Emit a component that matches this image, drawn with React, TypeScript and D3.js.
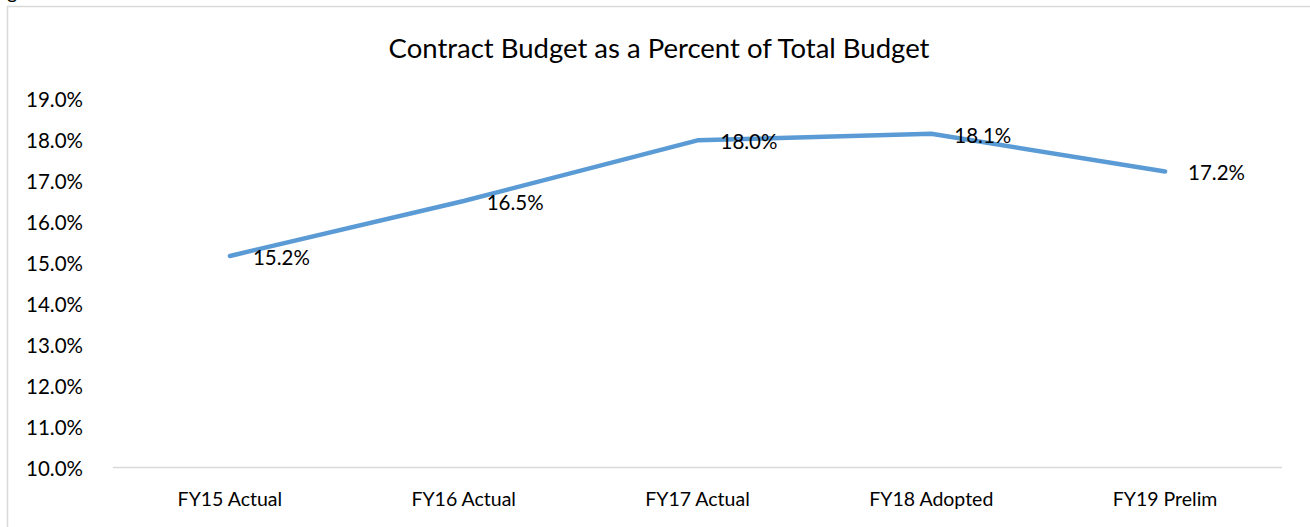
import React from 'react';
import * as d3 from 'd3';

const categories = ['FY15 Actual', 'FY16 Actual', 'FY17 Actual', 'FY18 Adopted', 'FY19 Prelim'];
const values = [0.1516, 0.165, 0.1798, 0.1814, 0.1722];
const yTicks = [0.1, 0.11, 0.12, 0.13, 0.14, 0.15, 0.16, 0.17, 0.18, 0.19];

const W = 1310;
const H = 527;
const font = "Lato, 'Open Sans', sans-serif";

const App = () => {
  const x = d3.scaleBand<string>().domain(categories).range([113, 1282]).padding(0);
  const y = d3.scaleLinear().domain([0.1, 0.19]).range([467.5, 98.5]);
  const fmt = d3.format('.1%');

  const line = d3
    .line<number>()
    .x((d, i) => (x(categories[i]) as number) + x.bandwidth() / 2)
    .y(d => y(d));

  return (
    <svg
      width={W}
      height={H}
      style={{ position: 'absolute', left: 0, top: 0, background: '#fff' }}
    >
      {/* cut-off caption above the chart */}
      <text x={7} y={-1} fontFamily={font} fontSize={20} fill="#000">g</text>
      {/* chart border */}
      <rect x={7.5} y={6.5} width={W + 10} height={H + 10} fill="none" stroke="#d9d9d9" strokeWidth={1.5} />

      <text x={659} y={47} textAnchor="middle" dominantBaseline="central" fontFamily={font} fontSize={27.5} fill="#000">
        Contract Budget as a Percent of Total Budget
      </text>

      {yTicks.map(t => (
        <text key={t} x={83} y={y(t)} textAnchor="end" dominantBaseline="central" fontFamily={font} fontSize={20.5} fill="#000">
          {fmt(t)}
        </text>
      ))}

      <line x1={113} x2={1282} y1={y(0.1)} y2={y(0.1)} stroke="#d9d9d9" strokeWidth={1.5} />

      {categories.map(c => (
        <text key={c} x={(x(c) as number) + x.bandwidth() / 2} y={498} textAnchor="middle" dominantBaseline="central" fontFamily={font} fontSize={19.5} fill="#000">
          {c}
        </text>
      ))}

      <path d={line(values) as string} fill="none" stroke="#5b9bd5" strokeWidth={4.5} strokeLinecap="round" strokeLinejoin="round" />

      {values.map((v, i) => (
        <text key={i} x={(x(categories[i]) as number) + x.bandwidth() / 2 + 23} y={y(v) + 1} dominantBaseline="central" fontFamily={font} fontSize={20.5} fill="#000">
          {fmt(v)}
        </text>
      ))}
    </svg>
  );
};

export default App;
